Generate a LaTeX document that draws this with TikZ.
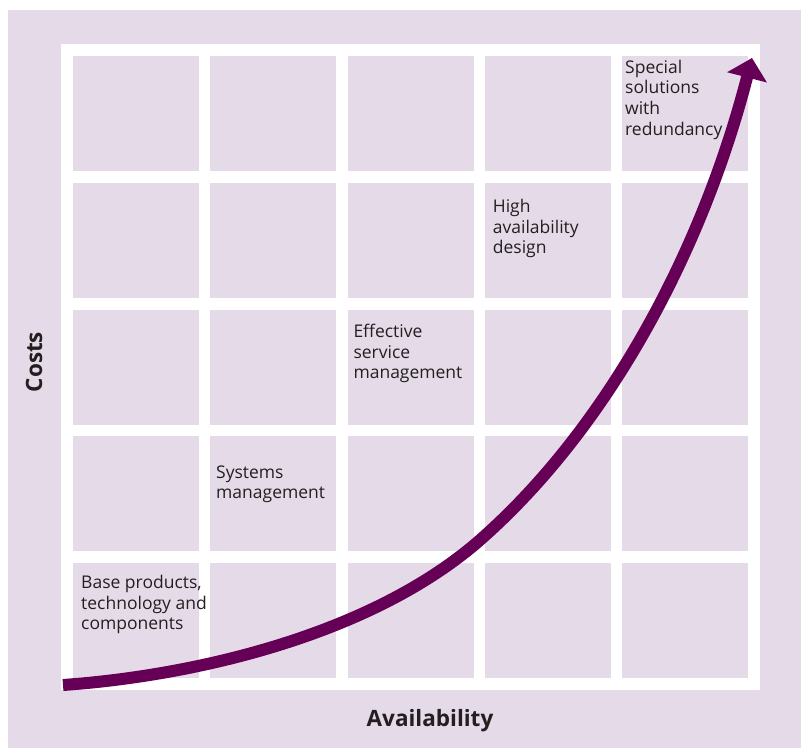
\documentclass[tikz,border=0pt]{standalone}
\usepackage{fontspec}
\setmainfont{Open Sans}
\usetikzlibrary{arrows.meta}
\definecolor{bgpurple}{RGB}{229,219,232}
\definecolor{arrowpurple}{RGB}{102,0,87}
\definecolor{txt}{RGB}{35,31,32}
\tikzset{
  cellbox/.style={fill=bgpurple, draw=none},
  celltext/.style={anchor=north west, inner sep=0pt, align=left, text=txt,
    font=\fontsize{17.5}{20.6}\selectfont},
  axislabel/.style={inner sep=0pt, text=txt, font=\fontsize{22.5}{26}\selectfont\bfseries},
  curvearrow/.style={line width=12pt, draw=arrowpurple,
    -{Triangle[length=20pt,width=40pt]}}
}
\begin{document}
\begin{tikzpicture}[x=1pt,y=-1pt]
\useasboundingbox (0,0) rectangle (801,748);
\fill[white] (0,0) rectangle (801,748);
\fill[bgpurple] (8,10) rectangle (801,748);
\fill[white] (61,44) rectangle (760,690);
\foreach \i in {0,...,4}{
  \foreach \j in {0,...,4}{
    \path[cellbox] ({73+137.25*\i},{56+126.75*\j}) rectangle ++(126,115);
  }
}
\node[celltext] (base) at (81,575.2) {Base products,\\technology and\\components};
\node[celltext] (sys) at (216,465.2) {Systems\\management};
\node[celltext] (eff) at (353.3,324.2) {Effective\\service\\management};
\node[celltext] (high) at (492.7,199.2) {High\\availability\\design};
\node[celltext] (spec) at (625,59.8) {Special\\solutions\\with\\redundancy};
\node[axislabel, anchor=base] (avail) at (430,726.7) {Availability};
\node[axislabel, rotate=90] (costs) at (34,362) {Costs};
\coordinate (s) at (63,685);
\coordinate (m) at (480,540);
\coordinate (e) at (752,58);
\draw[curvearrow] (s) .. controls (203,675) and (375,632) .. (m)
  .. controls (607.5,428) and (702,252) .. (e);
\end{tikzpicture}
\end{document}
